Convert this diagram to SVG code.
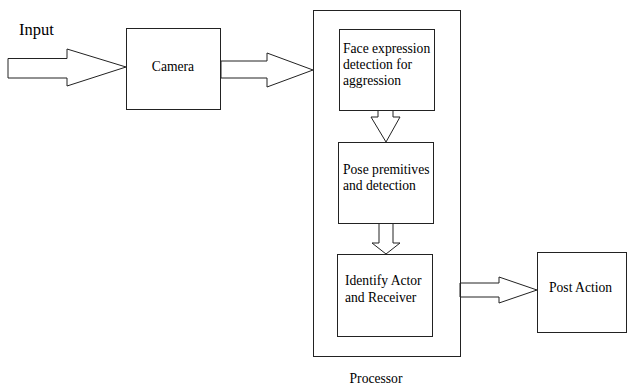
<svg xmlns="http://www.w3.org/2000/svg" width="627" height="388" viewBox="0 0 627 388" font-family="'Liberation Serif', 'DejaVu Serif', serif">
<style>
.box{fill:#fff;stroke:#222;stroke-width:1}
.arr{fill:#fff;stroke:#222;stroke-width:1;stroke-linejoin:miter}
.t{font-size:13.6px;fill:#000}
</style>
<rect width="627" height="388" fill="#fff"/>
<text x="19" y="35" font-size="16.5" fill="#000">Input</text>
<g id="connectors">
<polygon class="arr" points="8,58.5 67,58.5 67,49 126,67 67,86 67,78 8,78"/>
<polygon class="arr" points="221,61 267,61 267,53 313,70 267,87 267,78 221,78"/>
<polygon class="arr" points="378,110 393,110 393,117 400,117 386,142 371,117 378,117"/>
<polygon class="arr" points="379,223 393,223 393,243 400,243 386,254 372,243 379,243"/>
<polygon class="arr" points="460,283 499,283 499,277 537,290 499,303 499,297 460,297"/>
</g>
<g id="camera">
<rect class="box" x="126.5" y="28.5" width="94" height="81"/>
<text class="t" x="173" y="71" text-anchor="middle">Camera</text>
</g>
<g id="processor">
<rect class="box" x="313.5" y="10.5" width="147" height="346" style="fill:none"/>
<text class="t" x="376" y="383" text-anchor="middle">Processor</text>
</g>
<g id="face">
<rect class="box" x="339.5" y="29.5" width="95" height="81"/>
<text class="t" x="343" y="53">Face expression</text>
<text class="t" x="343" y="69">detection for</text>
<text class="t" x="343" y="85">aggression</text>
</g>
<g id="pose">
<rect class="box" x="338.5" y="142.5" width="95" height="81"/>
<text class="t" x="343" y="174">Pose premitives</text>
<text class="t" x="343" y="190">and detection</text>
</g>
<g id="identify">
<rect class="box" x="337.5" y="254.5" width="95" height="82"/>
<text class="t" x="345" y="285">Identify Actor</text>
<text class="t" x="345" y="302">and Receiver</text>
</g>
<g id="post">
<rect class="box" x="537.5" y="252.5" width="89" height="80"/>
<text class="t" x="549" y="292">Post Action</text>
</g>
</svg>
